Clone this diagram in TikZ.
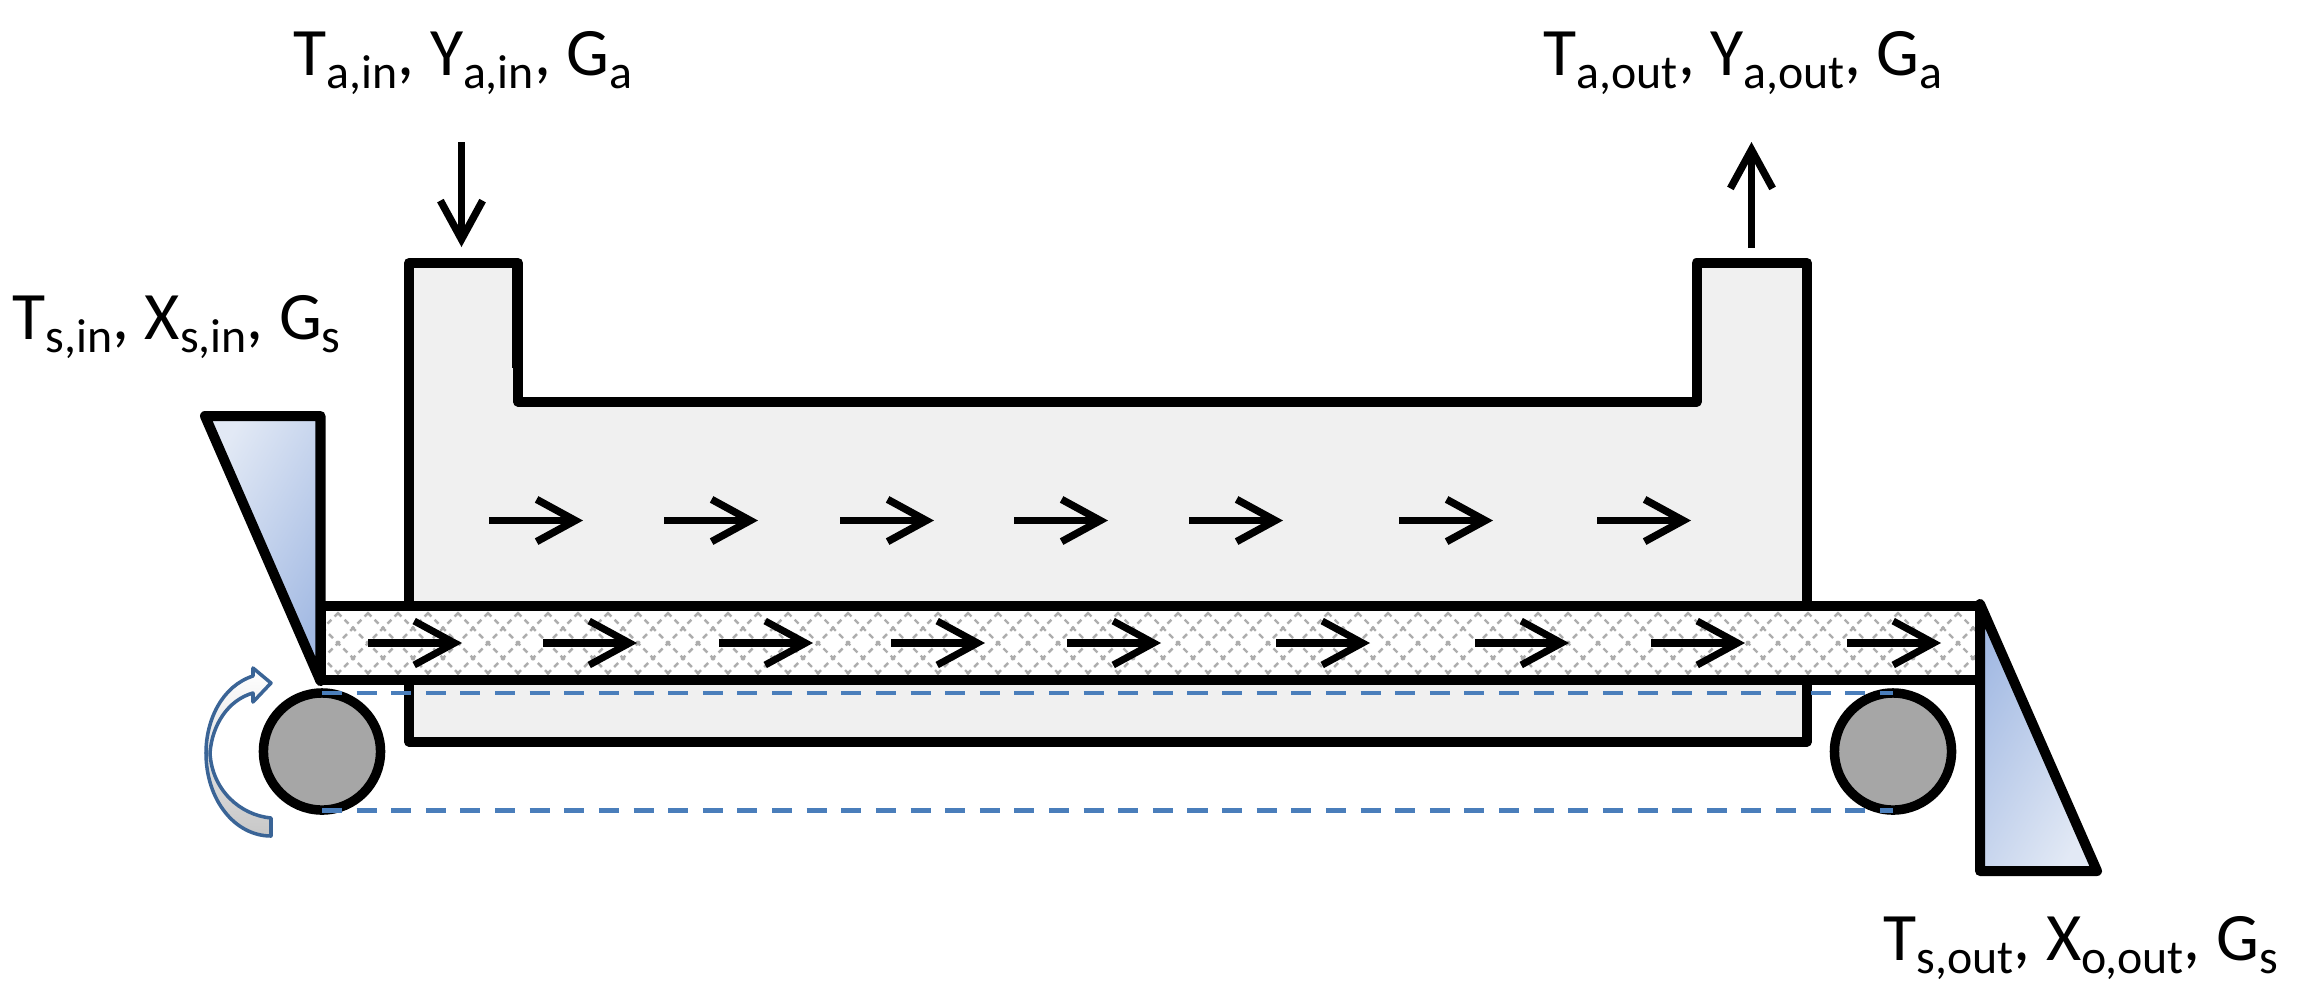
\documentclass[tikz,border=0pt]{standalone}
\usepackage{fontspec}
\setmainfont{Carlito}
\usetikzlibrary{arrows.meta}
\definecolor{chamber}{HTML}{F0F0F0}
\definecolor{rollerfill}{HTML}{A6A6A6}
\definecolor{hoplight}{HTML}{E2E9F5}
\definecolor{hopdark}{HTML}{A3BAE3}
\definecolor{beltdash}{HTML}{4A7EBB}
\definecolor{curvedge}{HTML}{3A6496}
\definecolor{hatch}{HTML}{ADADAD}
\newcommand{\lowsub}[1]{\raisebox{-0.2em}{\fontsize{13.6pt}{13.6pt}\selectfont #1}}
\tikzset{
  wall/.style={draw=black,line width=2.85pt,line join=round},
  flow/.style={line width=2.1pt,-{Straight Barb[length=11pt,width=12pt,line width=2.1pt]}},
  stream/.style={line width=2pt,-{Straight Barb[length=11.5pt,width=12.5pt,line width=2pt]}},
  label/.style={anchor=base west,inner sep=0pt,font=\fontsize{19.3pt}{19.3pt}\selectfont},
  rollerbody/.style={circle,draw=black,fill=rollerfill,line width=2.7pt,minimum size=1.17cm,inner sep=0pt,outer sep=0pt},
  beltline/.style={draw=beltdash,line width=1.4pt,dash pattern=on 0.2cm off 0.146cm},
  hatchline/.style={draw=hatch,line width=0.7pt,dash pattern=on 1.6pt off 1.3pt}
}
\begin{document}
\begin{tikzpicture}[x=0.01cm,y=-0.01cm]
\useasboundingbox (0,0) rectangle (2302,1002);
% chamber
\draw[wall,fill=chamber] (409,263) -- (518,263) -- (518,401.5) -- (1696.5,401.5) -- (1696.5,263) -- (1807,263) -- (1807,741.5) -- (409,741.5) -- cycle;
\fill[black] (512,263) rectangle (516,368);
% belt
\fill[white] (320,605.5) rectangle (1980,679.5);
\begin{scope}
  \clip (325,610) rectangle (1976,675);
  \foreach \k in {-3,...,62}{
    \draw[hatchline] ({323+30*\k},{598}) -- ({323+30*\k+90},{688});
    \draw[hatchline] ({323+30*\k+90},{598}) -- ({323+30*\k},{688});
  }
\end{scope}
\draw[wall] (320.5,605.5) rectangle (1980,679.5);
% hoppers
\path[wall,top color=hoplight,bottom color=hopdark,shading angle=60] (205,416) -- (320.5,416) -- (320.5,681) -- cycle;
\path[wall,top color=hopdark,bottom color=hoplight,shading angle=60] (1980,604) -- (1980,871) -- (2097,871) -- cycle;
% air arrows
\foreach \a/\b in {489/583,664/758,840/934,1014/1108,1189/1283,1399/1493,1597/1691}
  \draw[flow] (\a,520.5) -- (\b,520.5);
% belt arrows
\foreach \a/\b in {368/462,543/637,719/813,891/985,1067/1161,1276/1370,1475/1569,1651/1745,1847/1941}
  \draw[stream] (\a,643) -- (\b,643);
% rollers
\node[rollerbody] (rollerL) at (322,751.5) {};
\node[rollerbody] (rollerR) at (1893,751.5) {};
\draw[beltline] (rollerL.north) -- (rollerR.north);
\draw[beltline] (rollerL.south) -- (rollerR.south);
% rotation arrow
\path[draw=curvedge,line width=1pt,line join=round,top color=white,bottom color=black!22]
  (271,836) .. controls (235,836) and (206,800) .. (206,753)
  .. controls (206,720) and (222,686) .. (253,676)
  -- (253,668) -- (271,683) -- (253,702) -- (253,693)
  .. controls (228,700) and (212,725) .. (210,753)
  .. controls (212,790) and (240,815) .. (271,818) -- cycle;
% labels
\node[label] (ain) at (293,75) {T\lowsub{a,in}, Y\lowsub{a,in}, G\lowsub{a}};
\node[label] (aout) at (1543,75) {T\lowsub{a,out}, Y\lowsub{a,out}, G\lowsub{a}};
\node[label] (sin) at (12,339) {T\lowsub{s,in}, X\lowsub{s,in}, G\lowsub{s}};
\node[label] (sout) at (1883,960) {T\lowsub{s,out}, X\lowsub{o,out}, G\lowsub{s}};
% stream arrows
\coordinate (inS) at (461.5,142);
\coordinate (inE) at (461.5,247);
\coordinate (outS) at (1751.5,248);
\coordinate (outE) at (1751.5,142);
\draw[flow] (inS) -- (inE);
\draw[flow] (outS) -- (outE);
\end{tikzpicture}
\end{document}
